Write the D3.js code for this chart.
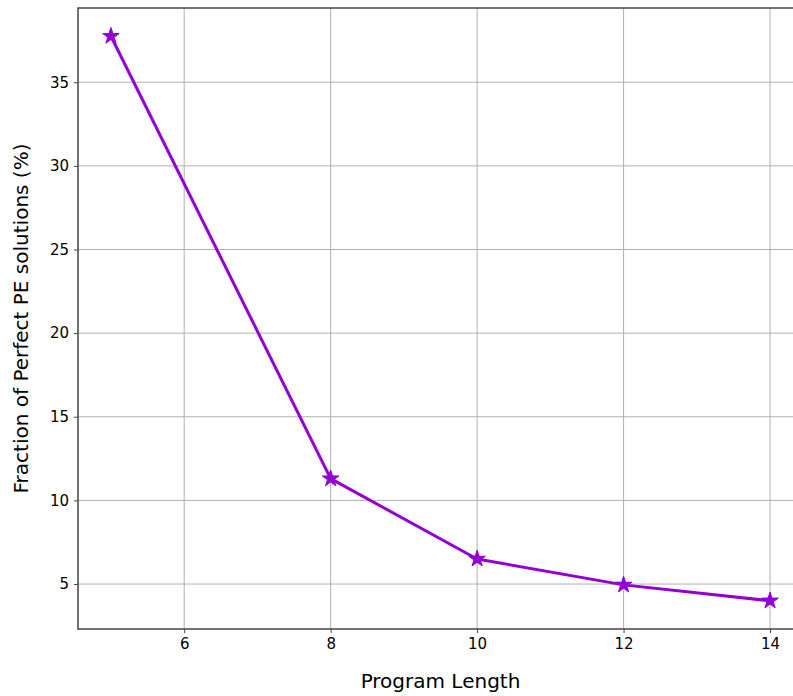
<!DOCTYPE html>
<html>
<head>
<meta charset="utf-8">
<script src="https://cdn.jsdelivr.net/npm/d3@7"></script>
<style>
  body { margin: 0; background: #fff; }
  svg { display: block; font-family: "DejaVu Sans", sans-serif; }
</style>
</head>
<body>
<svg width="793" height="696"></svg>
<script>
const programLength = [5, 8, 10, 12, 14];
const perfectFraction = [37.75, 11.3, 6.5, 4.95, 4.0];
const xTicks = [6, 8, 10, 12, 14];
const yTicks = [5, 10, 15, 20, 25, 30, 35];

const svg = d3.select("svg");
const plotLeft = 78, plotRight = 803, plotTop = 8, plotBottom = 629;

// matplotlib style 5% margins
const xPad = (d3.max(programLength) - d3.min(programLength)) * 0.05;
const yPad = (d3.max(perfectFraction) - d3.min(perfectFraction)) * 0.05;

const x = d3.scaleLinear()
    .domain([d3.min(programLength) - xPad, d3.max(programLength) + xPad])
    .range([plotLeft, plotRight]);
const y = d3.scaleLinear()
    .domain([d3.min(perfectFraction) - yPad, d3.max(perfectFraction) + yPad])
    .range([plotBottom, plotTop]);

// grid
svg.append("g")
    .selectAll("line")
    .data(xTicks)
    .join("line")
    .attr("x1", d => x(d)).attr("x2", d => x(d))
    .attr("y1", plotTop).attr("y2", plotBottom)
    .attr("stroke", "#b0b0b0").attr("stroke-width", 1);

svg.append("g")
    .selectAll("line")
    .data(yTicks)
    .join("line")
    .attr("x1", plotLeft).attr("x2", plotRight)
    .attr("y1", d => y(d)).attr("y2", d => y(d))
    .attr("stroke", "#b0b0b0").attr("stroke-width", 1);

// axes
const xAxis = svg.append("g")
    .attr("transform", `translate(0,${plotBottom})`)
    .call(d3.axisBottom(x).tickValues(xTicks).tickSize(4).tickPadding(5).tickFormat(d3.format("d")));
const yAxis = svg.append("g")
    .attr("transform", `translate(${plotLeft},0)`)
    .call(d3.axisLeft(y).tickValues(yTicks).tickSize(4).tickPadding(5).tickFormat(d3.format("d")));

[xAxis, yAxis].forEach(g => {
    g.attr("font-size", null).attr("font-family", null);
    g.select(".domain").remove();
    g.selectAll("line").attr("stroke", "#444");
    g.selectAll("text")
        .style("font-size", "15px")
        .attr("fill", "#000");
});

// spines
svg.append("rect")
    .attr("x", plotLeft).attr("y", plotTop)
    .attr("width", plotRight - plotLeft).attr("height", plotBottom - plotTop)
    .attr("fill", "none")
    .attr("stroke", "#444")
    .attr("stroke-width", 1.5);

// line + markers
const pts = programLength.map((d, i) => [d, perfectFraction[i]]);

svg.append("path")
    .datum(pts)
    .attr("fill", "none")
    .attr("stroke", "#9400D3")
    .attr("stroke-width", 3)
    .attr("stroke-linejoin", "round")
    .attr("d", d3.line().x(d => x(d[0])).y(d => y(d[1])));

svg.append("g")
    .selectAll("path")
    .data(pts)
    .join("path")
    .attr("transform", d => `translate(${x(d[0])},${y(d[1])})`)
    .attr("d", d3.symbol(d3.symbolStar, 85))
    .attr("fill", "#9400D3")
    .attr("stroke", "#9400D3")
    .attr("stroke-width", 1);

// labels
svg.append("text")
    .attr("x", (plotLeft + plotRight) / 2)
    .attr("y", 688)
    .attr("text-anchor", "middle")
    .style("font-size", "20px")
    .text("Program Length");

svg.append("text")
    .attr("transform", `translate(28,${(plotTop + plotBottom) / 2}) rotate(-90)`)
    .attr("text-anchor", "middle")
    .style("font-size", "20px")
    .text("Fraction of Perfect PE solutions (%)");
</script>
</body>
</html>
